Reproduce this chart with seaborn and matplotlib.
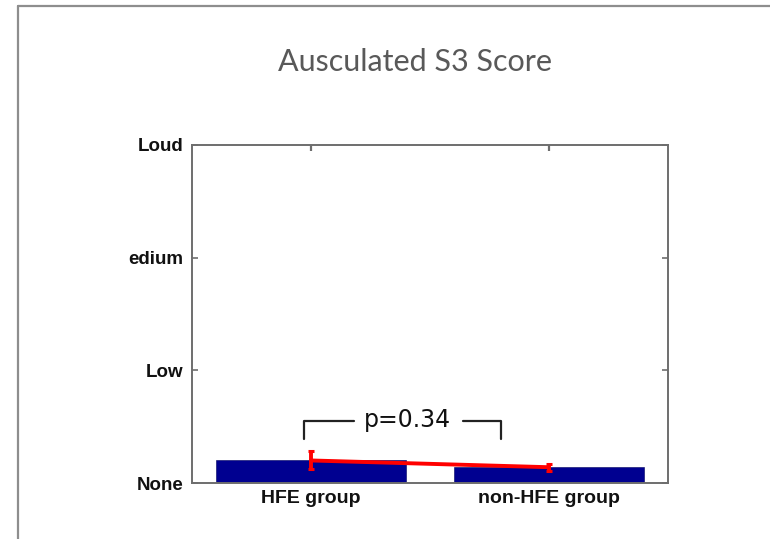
import matplotlib
matplotlib.use("Agg")
import matplotlib.pyplot as plt
from matplotlib.lines import Line2D
import seaborn as sns
import pandas as pd

# Data
groups = ["HFE group", "non-HFE group"]
mean_scores = [0.20, 0.14]
score_errors = [0.08, 0.03]
score_levels = [0, 1, 2, 3]
score_labels = ["None", "Low", "edium", "Loud"]
p_value_text = "p=0.34"

df = pd.DataFrame({"group": groups, "score": mean_scores})

sns.set_theme(style="white")
plt.rcParams["font.family"] = ["Liberation Sans", "DejaVu Sans"]

fig = plt.figure(figsize=(7.7, 5.39), dpi=100)
fig.patch.set_facecolor("white")

# slide frame
fig.add_artist(Line2D([17.5 / 770, 17.5 / 770], [0, 1 - 6 / 539],
                      color="#8e8e8e", lw=1.6, transform=fig.transFigure))
fig.add_artist(Line2D([17.5 / 770, 1], [1 - 6 / 539, 1 - 6 / 539],
                      color="#8e8e8e", lw=1.6, transform=fig.transFigure))

fig.text(415 / 770, 1 - 62 / 539, "Ausculated S3 Score", ha="center", va="center",
         fontsize=22, color="#595959", family=["Lato", "DejaVu Sans"])

ax = fig.add_axes([192 / 770, 1 - 483 / 539, 476 / 770, 338 / 539])
sns.barplot(data=df, x="group", y="score", color="#000090", saturation=1,
            width=0.8, edgecolor="#000060", linewidth=0.4, ax=ax, errorbar=None)

ax.errorbar([0, 1], mean_scores, yerr=score_errors, color="#ff0000", lw=2.8,
            capsize=2, capthick=2.2, zorder=5)

# significance bracket
bx0, bx1, btop, bleg = -0.03, 0.80, 0.553, 0.39
ax.plot([bx0, bx0, 0.18], [bleg, btop, btop], color="#222222", lw=1.6, clip_on=False)
ax.plot([0.64, bx1, bx1], [btop, btop, bleg], color="#222222", lw=1.6, clip_on=False)
ax.text(0.405, btop + 0.01, p_value_text, ha="center", va="center", fontsize=17,
        color="#111111", family=["DejaVu Sans"])

ax.set_xlim(-0.5, 1.5)
ax.set_ylim(0, 3)
ax.set_yticks(score_levels)
ax.set_yticklabels(score_labels, fontsize=13.5, fontweight="bold", color="#111111")
ax.set_xticks([0, 1])
ax.set_xticklabels(groups, fontsize=14, fontweight="bold", color="#111111")
ax.set_xlabel("")
ax.set_ylabel("")

for s in ax.spines.values():
    s.set_visible(True)
    s.set_color("#6e6e6e")
    s.set_linewidth(1.4)

ax.tick_params(axis="y", direction="in", length=4, width=1.2, color="#6e6e6e",
               left=True, right=True, pad=6)
ax.tick_params(axis="x", direction="in", length=0, top=False, pad=5)
top = ax.secondary_xaxis("top")
top.set_xticks([0, 1])
top.tick_params(direction="in", length=4, width=1.6, color="#6e6e6e", labeltop=False)
top.spines["top"].set_visible(False)

fig.savefig("out.png", dpi=100, facecolor="white")
